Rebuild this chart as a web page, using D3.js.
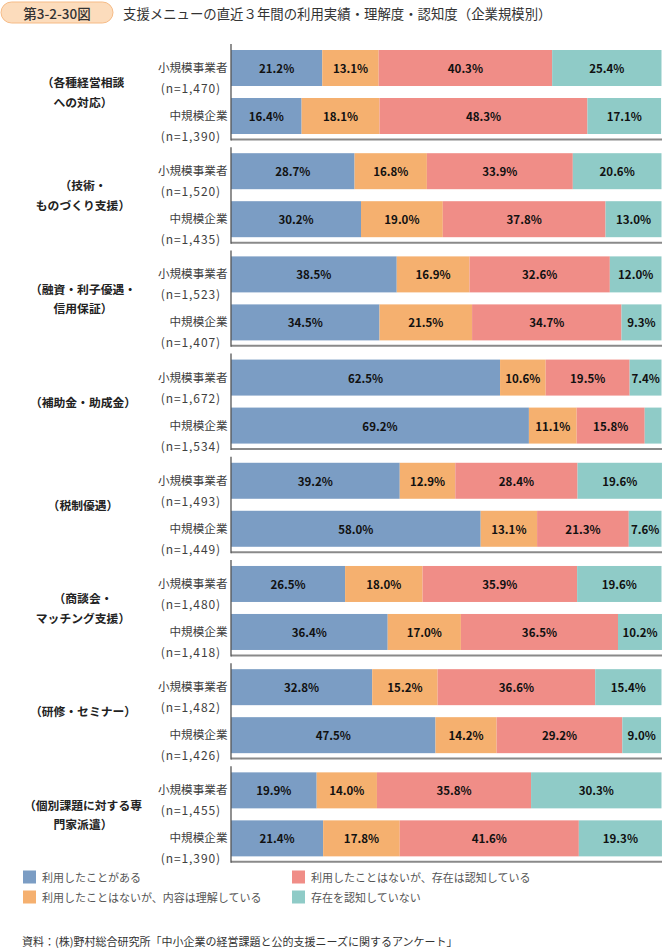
<!DOCTYPE html>
<html><head><meta charset="utf-8">
<script src="https://cdn.jsdelivr.net/npm/d3@7"></script>
<style>
html,body{margin:0;padding:0;background:#fff;}
svg{display:block;font-family:"Noto Sans CJK JP","Noto Sans",sans-serif;}
</style></head>
<body>
<svg id="chart" width="662" height="948"></svg>
<script>
const figureNo = "第3-2-30図";
const title = "支援メニューの直近３年間の利用実績・理解度・認知度（企業規模別）";
const source = "資料：(株)野村総合研究所「中小企業の経営課題と公的支援ニーズに関するアンケート」";
const categories = ["各種経営相談への対応","技術・ものづくり支援","融資・利子優遇・信用保証","補助金・助成金","税制優遇","商談会・マッチング支援","研修・セミナー","個別課題に対する専門家派遣"];
const categoryLines = [
  ["（各種経営相談","への対応）"],
  ["（技術・","ものづくり支援）"],
  ["（融資・利子優遇・","信用保証）"],
  ["（補助金・助成金）"],
  ["（税制優遇）"],
  ["（商談会・","マッチング支援）"],
  ["（研修・セミナー）"],
  ["（個別課題に対する専","門家派遣）"]
];
const groups = ["小規模事業者","中規模企業"];
const nSmall  = ["1,470","1,520","1,523","1,672","1,493","1,480","1,482","1,455"];
const nMedium = ["1,390","1,435","1,407","1,534","1,449","1,418","1,426","1,390"];
const seriesNames = ["利用したことがある","利用したことはないが、内容は理解している","利用したことはないが、存在は認知している","存在を認知していない"];
const seriesColors = ["#7b9dc4","#f5b06f","#f08d87","#8fcbc7"];
const smallValues = [
  [21.2,13.1,40.3,25.4],
  [28.7,16.8,33.9,20.6],
  [38.5,16.9,32.6,12.0],
  [62.5,10.6,19.5,7.4],
  [39.2,12.9,28.4,19.6],
  [26.5,18.0,35.9,19.6],
  [32.8,15.2,36.6,15.4],
  [19.9,14.0,35.8,30.3]
];
const mediumValues = [
  [16.4,18.1,48.3,17.1],
  [30.2,19.0,37.8,13.0],
  [34.5,21.5,34.7,9.3],
  [69.2,11.1,15.8,3.9],
  [58.0,13.1,21.3,7.6],
  [36.4,17.0,36.5,10.2],
  [47.5,14.2,29.2,9.0],
  [21.4,17.8,41.6,19.3]
];

const svg = d3.select("#chart");

// header
const hdr = svg.append("g");
hdr.append("rect").attr("x",1).attr("y",2).attr("width",112).attr("height",21).attr("rx",10.5)
  .attr("fill","#fcdcbc").attr("stroke","#f6bb86").attr("stroke-width",1);
hdr.append("text").attr("x",57).attr("y",13).attr("text-anchor","middle").attr("dominant-baseline","central")
  .attr("font-size",13.5).attr("font-weight",500).attr("fill","#333").text(figureNo);
hdr.append("text").attr("x",123).attr("y",13).attr("dominant-baseline","central")
  .attr("font-size",13.4).attr("fill","#333").text(title);

// scales
const x = d3.scaleLinear().domain([0,100]).range([231,661.5]);
const yOuter = d3.scaleBand().domain(categories).range([44,861.3]).paddingInner(0.08).paddingOuter(0);
const yInner = d3.scaleBand().domain(groups).range([0,96]).paddingInner(0.25).paddingOuter(0.125);

const rows = [];
categories.forEach((c,i)=>{
  rows.push({cat:c, grp:groups[0], n:nSmall[i], vals:smallValues[i]});
  rows.push({cat:c, grp:groups[1], n:nMedium[i], vals:mediumValues[i]});
});
const keys = seriesNames;
const table = rows.map(r=>{const o={cat:r.cat,grp:r.grp,n:r.n}; keys.forEach((k,j)=>o[k]=r.vals[j]); return o;});
const stacked = d3.stack().keys(keys)(table);

const barY = d => yOuter(d.data.cat) + yInner(d.data.grp);

const layers = svg.append("g").selectAll("g").data(stacked).join("g").attr("fill",(d,i)=>seriesColors[i]);
layers.selectAll("rect").data(d=>d).join("rect")
  .attr("x",d=>x(d[0])).attr("width",d=>x(d[1])-x(d[0]))
  .attr("y",barY).attr("height",yInner.bandwidth());

// value labels
const lab = svg.append("g").attr("font-size",11.5).attr("font-weight","bold").attr("fill","#111").attr("text-anchor","middle");
stacked.forEach(s=>{
  lab.selectAll(null).data(s.filter(d=>(d[1]-d[0])>=5)).join("text")
    .attr("x",d=>(x(d[0])+x(d[1]))/2)
    .attr("y",d=>barY(d)+yInner.bandwidth()/2)
    .attr("dominant-baseline","central")
    .text(d=>(d[1]-d[0]).toFixed(1)+"%");
});

// axes per panel
const axG = svg.append("g");
categories.forEach(c=>{
  const top = yOuter(c), bot = top + yOuter.bandwidth() + 0.5;
  axG.append("line").attr("x1",231).attr("x2",662).attr("y1",bot).attr("y2",bot)
    .attr("stroke","#8a8a8a").attr("stroke-width",2);
  axG.append("line").attr("x1",231).attr("x2",231).attr("y1",top).attr("y2",bot+1)
    .attr("stroke","#555").attr("stroke-width",1.3);
});

// row labels
const rl = svg.append("g").attr("fill","#404040").attr("text-anchor","end");
table.forEach(d=>{
  const cy = yOuter(d.cat)+yInner(d.grp)+yInner.bandwidth()/2;
  rl.append("text").attr("x",227.5).attr("y",cy-1).attr("dominant-baseline","central")
    .attr("font-size",11.6).text(d.grp);
  rl.append("text").attr("x",221).attr("y",cy+19.5).attr("dominant-baseline","central")
    .attr("font-size",12).attr("letter-spacing",0.9).text("(n="+d.n+")");
});

// category labels
const cl = svg.append("g").attr("font-size",11.8).attr("font-weight","bold").attr("fill","#222").attr("text-anchor","middle");
categories.forEach((c,i)=>{
  const lines = categoryLines[i];
  const cy = yOuter(c)+yOuter.bandwidth()/2;
  lines.forEach((t,j)=>{
    cl.append("text").attr("x",83).attr("y",cy+(j-(lines.length-1)/2)*19.5)
      .attr("dominant-baseline","central").text(t);
  });
});

// legend
const legendPos = [[23,877],[23,897],[292,877],[292,897]];
const lg = svg.append("g").attr("font-size",11).attr("fill","#555");
seriesNames.forEach((s,i)=>{
  const [lx,ly]=legendPos[i];
  lg.append("rect").attr("x",lx).attr("y",ly-6.5).attr("width",13).attr("height",13).attr("fill",seriesColors[i]);
  lg.append("text").attr("x",lx+19).attr("y",ly).attr("dominant-baseline","central").text(s);
});

// source
svg.append("text").attr("x",22).attr("y",941).attr("dominant-baseline","central")
  .attr("font-size",11).attr("fill","#333").text(source);
</script>
</body></html>
